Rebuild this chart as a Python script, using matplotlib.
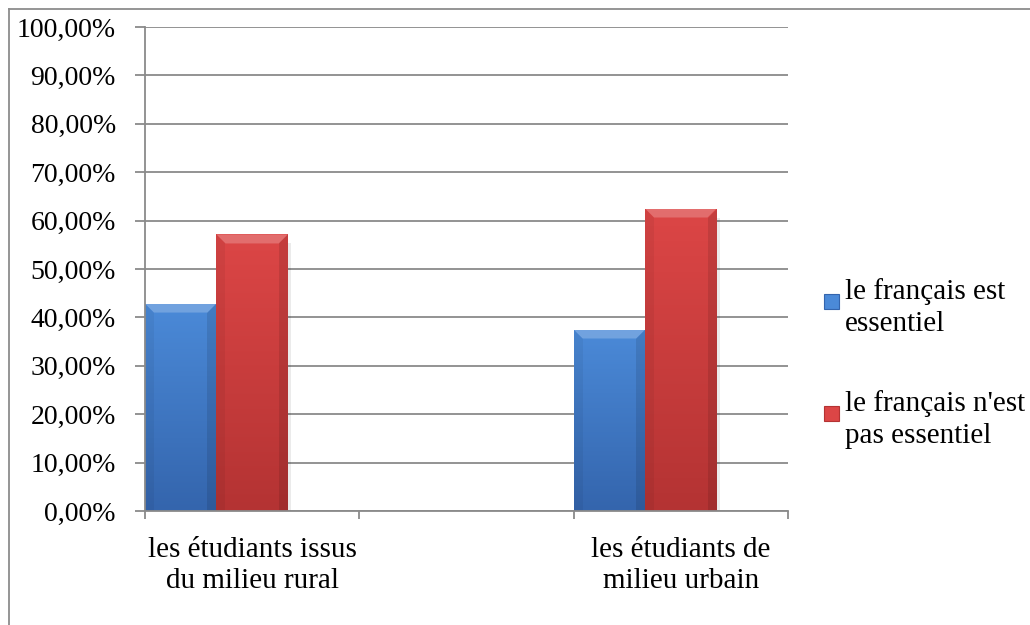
import numpy as np
import matplotlib.pyplot as plt
from matplotlib.patches import Polygon, Rectangle
from matplotlib.lines import Line2D
from matplotlib.ticker import FuncFormatter, MultipleLocator

plt.rcParams['font.family'] = ['Liberation Serif', 'DejaVu Serif']

# Three category slots, the middle one left empty
categories = ["les étudiants issus\ndu milieu rural", "", "les étudiants de\nmilieu urbain"]
essentiel = [0.4286, np.nan, 0.375]
pas_essentiel = [0.5714, np.nan, 0.625]
series_names = ["le français est\nessentiel", "le français n'est\npas essentiel"]

blue_top, blue_bot = "#4b8ad8", "#3465ad"
red_top, red_bot = "#dc4646", "#b43333"
grid_col = "#8a8a8a"

fig = plt.figure(figsize=(10.3, 6.25), dpi=100)
ax = fig.add_axes([145 / 1030, 1 - 511 / 625, (788 - 145) / 1030, (511 - 27) / 625])

x = np.arange(len(categories))
w = 1 / 3
b1 = ax.bar(x - 0.5, essentiel, width=w, align="edge", color=blue_top, zorder=2)
b2 = ax.bar(x - 0.5 + w, pas_essentiel, width=w, align="edge", color=red_top, zorder=2)

ax.set_xlim(-0.5, 2.5)
ax.set_ylim(0, 1)

# pixel -> data scale for the bevel
px_x = 3.0 / (ax.get_position().width * fig.get_figwidth() * fig.dpi)
px_y = 1 / (ax.get_position().height * fig.get_figheight() * fig.dpi)


def shade(bars, top, bot):
    grad = np.linspace(0, 1, 100).reshape(-1, 1)
    cmap = plt.matplotlib.colors.LinearSegmentedColormap.from_list("g", [bot, top])
    for r in bars:
        h = r.get_height()
        if not np.isfinite(h):
            continue
        x0, y0, wd = r.get_x(), r.get_y(), r.get_width()
        im = ax.imshow(grad, extent=[x0, x0 + wd, y0, y0 + h], origin="lower",
                       cmap=cmap, aspect="auto", zorder=2.1)
        im.set_clip_path(r)
        bx, by = 9 * px_x, 9 * px_y
        y1 = y0 + h
        # lighter top bevel
        ax.add_patch(Polygon([(x0, y1), (x0 + wd, y1), (x0 + wd - bx, y1 - by), (x0 + bx, y1 - by)],
                             closed=True, color="white", alpha=0.22, lw=0, zorder=2.2))
        # darker side bevels
        ax.add_patch(Polygon([(x0 + wd, y1), (x0 + wd, y0), (x0 + wd - bx, y0), (x0 + wd - bx, y1 - by)],
                             closed=True, color="black", alpha=0.10, lw=0, zorder=2.2))
        ax.add_patch(Polygon([(x0, y1), (x0, y0), (x0 + bx, y0), (x0 + bx, y1 - by)],
                             closed=True, color="black", alpha=0.05, lw=0, zorder=2.2))
        # soft shadow on the right
        ax.add_patch(Polygon([(x0 + wd, y1 - by), (x0 + wd + 3 * px_x, y1 - by), (x0 + wd + 3 * px_x, y0), (x0 + wd, y0)],
                             closed=True, color="black", alpha=0.08, lw=0, zorder=1.9))


shade(b1, blue_top, blue_bot)
shade(b2, red_top, red_bot)

# axes, grid and ticks
ax.yaxis.set_major_locator(MultipleLocator(0.1))
ax.yaxis.set_major_formatter(FuncFormatter(lambda v, p: f"{v * 100:.2f}%".replace(".", ",")))
ax.grid(axis="y", color=grid_col, lw=1.3, zorder=0)
ax.set_axisbelow(True)
for s in ["top", "right"]:
    ax.spines[s].set_visible(False)
for s in ["left", "bottom"]:
    ax.spines[s].set_color(grid_col)
    ax.spines[s].set_linewidth(1.3)
ax.tick_params(axis="y", length=7, width=1.3, color=grid_col, pad=14, labelsize=20)

ax.set_xticks(x)
ax.set_xticklabels(categories, fontsize=21, linespacing=1.22)
ax.set_xticks(np.arange(-0.5, 3, 1), minor=True)
ax.tick_params(axis="x", which="major", length=0, pad=19)
ax.tick_params(axis="x", which="minor", length=6, width=1.3, color=grid_col)

# legend: marker beside the first line of each two-line label
legend_items = [(series_names[0], blue_top, blue_bot, 302),
                (series_names[1], red_top, red_bot, 414)]
for label, top, bot, base in legend_items:
    fig.add_artist(Rectangle((824 / 1030, 1 - (base + 7) / 625), 15 / 1030, 15 / 625,
                             transform=fig.transFigure, facecolor=top, edgecolor=bot, lw=0.8))
    fig.text(845 / 1030, 1 - (base - 24) / 625, label, fontsize=21, va="top", ha="left",
             linespacing=1.32)

# outer chart border
fig.add_artist(Line2D([9 / 1030, 9 / 1030], [0, 1 - 9 / 625], color="#8c8c8c", lw=1.3))
fig.add_artist(Line2D([9 / 1030, 1], [1 - 9 / 625, 1 - 9 / 625], color="#8c8c8c", lw=1.3))

fig.savefig("out.png", dpi=100)
